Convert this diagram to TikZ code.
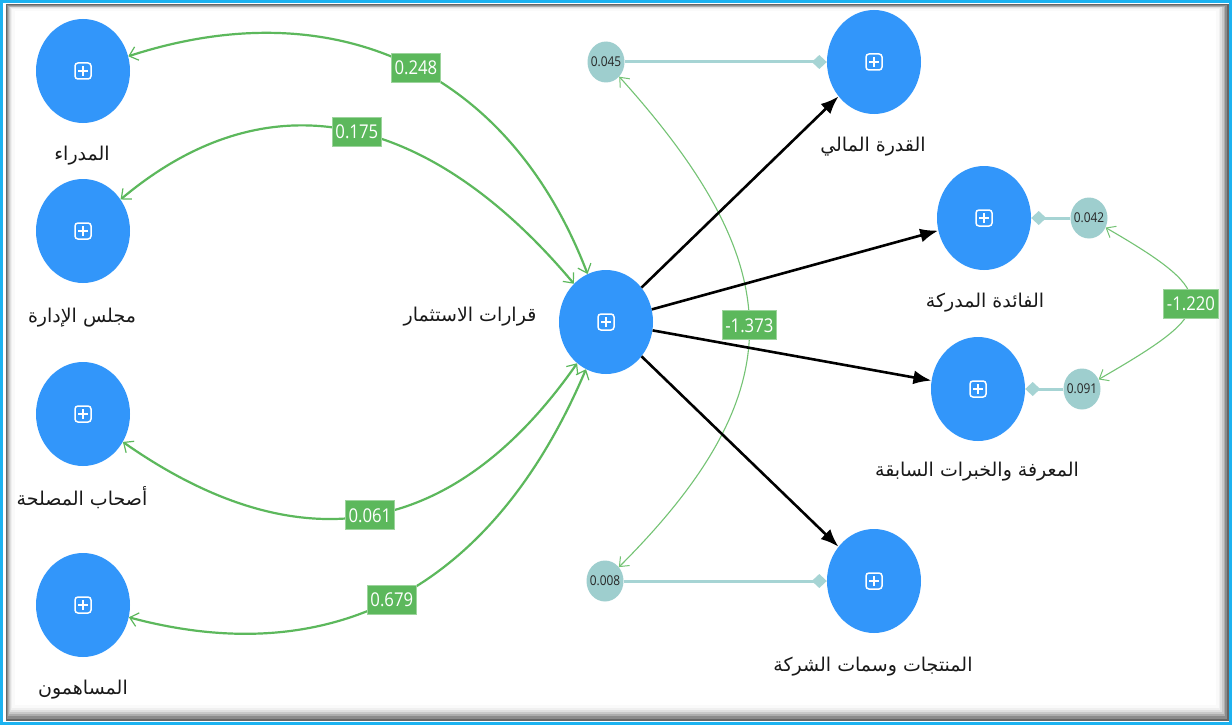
\documentclass[tikz,border=0pt]{standalone}
\usepackage{fontspec}
\usetikzlibrary{shapes.geometric,arrows.meta,calc}
\TeXXeTstate=1
\newfontfamily\arabicfont[Script=Arabic]{DejaVu Sans}
\newfontfamily\numfont[FakeStretch=0.88]{Open Sans}

\definecolor{nodeblue}{RGB}{50,150,250}
\definecolor{errteal}{RGB}{158,206,206}
\definecolor{errline}{RGB}{166,212,212}
\definecolor{pathgreen}{RGB}{92,184,92}
\definecolor{framecyan}{RGB}{28,178,240}

\tikzset{
  construct/.style={ellipse, fill=nodeblue, minimum width=94pt, minimum height=104pt, inner sep=0pt,
    path picture={
      \draw[white, line width=1.5pt, rounded corners=3pt]
        ([shift={(-8pt,-8pt)}]path picture bounding box.center) rectangle
        ([shift={(8pt,8pt)}]path picture bounding box.center);
      \draw[white, line width=1.5pt]
        ([shift={(-5pt,0pt)}]path picture bounding box.center) --
        ([shift={(5pt,0pt)}]path picture bounding box.center)
        ([shift={(0pt,-5pt)}]path picture bounding box.center) --
        ([shift={(0pt,5pt)}]path picture bounding box.center);
    }},
  errnode/.style={ellipse, fill=errteal, minimum width=37pt, minimum height=41pt, inner sep=-8pt,
    text=black!85, font=\numfont\fontsize{13.5}{14}\selectfont},
  namelbl/.style={inner sep=0pt, text=black!90, font=\arabicfont\fontsize{19}{22}\selectfont},
  coefbox/.style={fill=pathgreen, draw=pathgreen!60!white, line width=0.8pt, text=white,
    inner xsep=3pt, inner ysep=0pt, minimum height=29pt, font=\numfont\fontsize{19}{20}\selectfont},
  loading/.style={draw=pathgreen, line width=2.2pt,
    {Straight Barb[length=8pt,width=14pt,line width=1.2pt]}-{Straight Barb[length=8pt,width=14pt,line width=1.2pt]}},
  errcov/.style={draw=pathgreen!85!white, line width=1.1pt,
    {Straight Barb[length=8pt,width=13pt,line width=1pt]}-{Straight Barb[length=8pt,width=13pt,line width=1pt]}},
  effect/.style={draw=black, line width=2.6pt, -{Latex[length=18pt,width=14pt]}},
  errlink/.style={draw=errline, line width=3pt, -{Diamond[length=15pt,width=14pt]}}
}

\begin{document}
\begin{tikzpicture}[x=1pt,y=1pt]
  \useasboundingbox (0,0) rectangle (1232,-725);
  \fill[white] (0,0) rectangle (1232,-725);

  % panel shadow, outside in
  \foreach \k/\c in {0/60,1/45,2/32,3/21,4/12,5/6,6/2}{
    \draw[line width=2.5pt, black!\c]
      (7.5+\k*1.0,-5.5-\k*0.8) rectangle (1227.5-\k*1.7,-719.5+\k*2.2);
  }
  \fill[white] (15,-11) rectangle (1216,-704);
  \draw[framecyan, line width=2.6pt] (1.8,-1.8) rectangle (1230.2,-723.2);

  % constructs
  \node[construct] (mud)    at (83,-71)  {};
  \node[construct] (majlis) at (83,-231) {};
  \node[construct] (staker) at (83,-414) {};
  \node[construct] (share)  at (83,-605) {};
  \node[construct] (inv)    at (606,-322) {};
  \node[construct] (fin)    at (874,-62)  {};
  \node[construct] (ben)    at (984,-218) {};
  \node[construct] (know)   at (978,-389) {};
  \node[construct] (prod)   at (874,-581) {};

  % construct names
  \node[namelbl] (mudL)    at (82,-156)  {\beginR المدراء\endR};
  \node[namelbl] (majlisL) at (82,-318)  {\beginR مجلس الإدارة\endR};
  \node[namelbl] (stakerL) at (82,-498)  {\beginR أصحاب المصلحة\endR};
  \node[namelbl] (shareL)  at (83,-690)  {\beginR المساهمون\endR};
  \node[namelbl] (invL)    at (470,-317) {\beginR قرارات الاستثمار\endR};
  \node[namelbl] (finL)    at (873,-147) {\beginR القدرة المالي\endR};
  \node[namelbl] (benL)    at (985,-303) {\beginR الفائدة المدركة\endR};
  \node[namelbl] (knowL)   at (977,-472) {\beginR المعرفة والخبرات السابقة\endR};
  \node[namelbl] (prodL)   at (873,-667) {\beginR المنتجات وسمات الشركة\endR};

  % error terms
  \node[errnode] (e1) at (606,-62)  {0.045};
  \node[errnode] (e2) at (1089,-218) {0.042};
  \node[errnode] (e3) at (1082,-389) {0.091};
  \node[errnode] (e4) at (605,-581) {0.008};

  \draw[errlink] (e1) -- (fin);
  \draw[errlink] (e2) -- (ben);
  \draw[errlink] (e3) -- (know);
  \draw[errlink] (e4) -- (prod);

  % error covariances
  \draw[errcov] (e1) to[out=-48,in=45,looseness=1.32] node[coefbox]{-1.373} (e4);
  \draw[errcov] (e2) to[out=-30,in=30,looseness=2.3] node[coefbox]{-1.220} (e3);

  % structural effects
  \draw[effect] (inv) -- (fin);
  \draw[effect] (inv) -- (ben);
  \draw[effect] (inv) -- (know);
  \draw[effect] (inv) -- (prod);

  % first-order loadings
  \draw[loading] (mud)    to[out=18,in=111,looseness=1.1]  node[coefbox,pos=0.52]{0.248} (inv);
  \draw[loading] (majlis) to[out=40,in=130,looseness=1.15] node[coefbox,pos=0.5]{0.175} (inv);
  \draw[loading] (staker) to[out=-35,in=235,looseness=1.2] node[coefbox,pos=0.5]{0.061} (inv);
  \draw[loading] (share)  to[out=-15,in=247,looseness=1.1] node[coefbox,pos=0.47]{0.679} (inv);
\end{tikzpicture}
\end{document}
